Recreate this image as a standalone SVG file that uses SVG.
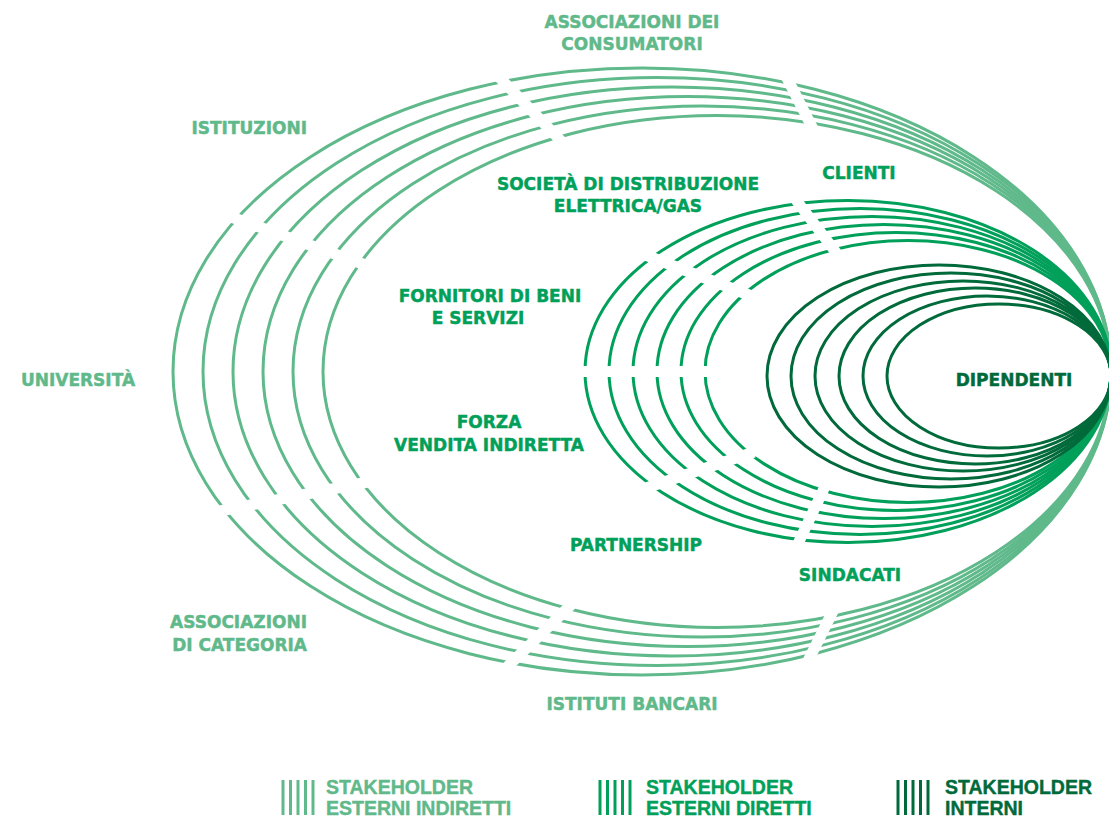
<svg xmlns="http://www.w3.org/2000/svg" width="1109" height="820" viewBox="0 0 1109 820">
<style>
.lt{fill:none;stroke:#5fb98a;stroke-width:3}
.md{fill:none;stroke:#00a05a;stroke-width:3}
.dk{fill:none;stroke:#006a3b;stroke-width:3}
.cut{stroke:#000;stroke-width:11;fill:none}
.lbl{font-family:"DejaVu Sans","Liberation Sans",sans-serif;font-weight:bold;font-size:17px;stroke-width:0.45}
.leg{font-family:"Liberation Sans",Arial,sans-serif;font-weight:bold;font-size:19.5px;stroke-width:0.4}
.tl{fill:#5fb98a;stroke:#5fb98a}.tm{fill:#00a05a;stroke:#00a05a}.td{fill:#006a3b;stroke:#006a3b}
</style>
<defs>
<mask id="mOuter" maskUnits="userSpaceOnUse" x="0" y="0" width="1109" height="820">
<rect x="0" y="0" width="1109" height="820" fill="#fff"/>
<line class="cut" x1="220" y1="213" x2="374" y2="268"/>
<line class="cut" x1="497" y1="75" x2="564" y2="144"/>
<line class="cut" x1="785" y1="74" x2="814" y2="131"/>
<line class="cut" x1="834" y1="609" x2="806" y2="665"/>
<line class="cut" x1="575" y1="601" x2="504" y2="670"/>
<line class="cut" x1="215" y1="512" x2="373" y2="481"/>
</mask>
<mask id="mMid" maskUnits="userSpaceOnUse" x="0" y="0" width="1109" height="820">
<rect x="0" y="0" width="1109" height="820" fill="#fff"/>
<line class="cut" x1="643" y1="254" x2="754" y2="297"/>
<line class="cut" x1="793" y1="196" x2="841" y2="259"/>
<line class="cut" x1="575" y1="371.5" x2="715" y2="371.5"/>
<line class="cut" x1="643" y1="489" x2="754" y2="452"/>
<line class="cut" x1="828" y1="480" x2="795" y2="550"/>
</mask>
</defs>
<g id="connectors">
<g id="outer-rings" mask="url(#mOuter)">
<ellipse class="lt" cx="642" cy="371.5" rx="469" ry="303.5"/>
<ellipse class="lt" cx="657" cy="371.5" rx="454" ry="294"/>
<ellipse class="lt" cx="672" cy="371.5" rx="439" ry="284.5"/>
<ellipse class="lt" cx="687" cy="371.5" rx="424" ry="275"/>
<ellipse class="lt" cx="702" cy="371.5" rx="409" ry="265.5"/>
<ellipse class="lt" cx="717" cy="371.5" rx="394" ry="256"/>
</g>
<g id="middle-rings" mask="url(#mMid)">
<ellipse class="md" cx="848" cy="371.5" rx="263" ry="171"/>
<ellipse class="md" cx="860" cy="371.5" rx="251" ry="163"/>
<ellipse class="md" cx="872" cy="371.5" rx="239" ry="155"/>
<ellipse class="md" cx="884" cy="371.5" rx="227" ry="147"/>
<ellipse class="md" cx="896" cy="371.5" rx="215" ry="139"/>
<ellipse class="md" cx="908" cy="371.5" rx="203" ry="131"/>
</g>
<g id="inner-rings">
<ellipse class="dk" cx="939" cy="376" rx="172" ry="111"/>
<ellipse class="dk" cx="951" cy="376" rx="160" ry="103"/>
<ellipse class="dk" cx="963" cy="376" rx="148" ry="95"/>
<ellipse class="dk" cx="975" cy="376" rx="136" ry="88"/>
<ellipse class="dk" cx="987" cy="376" rx="124" ry="80"/>
<ellipse class="dk" cx="999" cy="376" rx="112" ry="72"/>
</g>
</g>
<g id="n-consumatori"><text class="lbl tl" text-anchor="middle" x="632" y="28">ASSOCIAZIONI DEI</text><text class="lbl tl" text-anchor="middle" x="632" y="50">CONSUMATORI</text></g>
<g id="n-istituzioni"><text class="lbl tl" text-anchor="end" x="307" y="134">ISTITUZIONI</text></g>
<g id="n-universita"><text class="lbl tl" text-anchor="middle" x="78" y="386">UNIVERSITÀ</text></g>
<g id="n-categoria"><text class="lbl tl" text-anchor="end" x="307" y="628">ASSOCIAZIONI</text><text class="lbl tl" text-anchor="end" x="307" y="651">DI CATEGORIA</text></g>
<g id="n-bancari"><text class="lbl tl" text-anchor="middle" x="632" y="710">ISTITUTI BANCARI</text></g>
<g id="n-societa"><text class="lbl tm" text-anchor="middle" x="628" y="190">SOCIETÀ DI DISTRIBUZIONE</text><text class="lbl tm" text-anchor="middle" x="628" y="212">ELETTRICA/GAS</text></g>
<g id="n-clienti"><text class="lbl tm" text-anchor="middle" x="859" y="179">CLIENTI</text></g>
<g id="n-fornitori"><text class="lbl tm" text-anchor="middle" x="490" y="302">FORNITORI DI BENI</text><text class="lbl tm" text-anchor="middle" x="478" y="324">E SERVIZI</text></g>
<g id="n-forza"><text class="lbl tm" text-anchor="middle" x="489" y="428">FORZA</text><text class="lbl tm" text-anchor="middle" x="489" y="451">VENDITA INDIRETTA</text></g>
<g id="n-partnership"><text class="lbl tm" text-anchor="middle" x="636" y="551">PARTNERSHIP</text></g>
<g id="n-sindacati"><text class="lbl tm" text-anchor="middle" x="850" y="581">SINDACATI</text></g>
<g id="n-dipendenti"><text class="lbl td" text-anchor="middle" x="1014" y="386">DIPENDENTI</text></g>
<g id="legend-indiretti">
<g class="lt" stroke-width="2.5"><line x1="283" y1="780" x2="283" y2="815"/><line x1="290.5" y1="780" x2="290.5" y2="815"/><line x1="298" y1="780" x2="298" y2="815"/><line x1="305.5" y1="780" x2="305.5" y2="815"/><line x1="313" y1="780" x2="313" y2="815"/></g>
<text class="leg tl" x="326" y="794">STAKEHOLDER</text><text class="leg tl" x="326" y="815">ESTERNI INDIRETTI</text>
</g>
<g id="legend-diretti">
<g class="md" stroke-width="2.5"><line x1="600" y1="780" x2="600" y2="815"/><line x1="607.5" y1="780" x2="607.5" y2="815"/><line x1="615" y1="780" x2="615" y2="815"/><line x1="622.5" y1="780" x2="622.5" y2="815"/><line x1="630" y1="780" x2="630" y2="815"/></g>
<text class="leg tm" x="646" y="794">STAKEHOLDER</text><text class="leg tm" x="646" y="815">ESTERNI DIRETTI</text>
</g>
<g id="legend-interni">
<g class="dk" stroke-width="2.5"><line x1="898" y1="780" x2="898" y2="815"/><line x1="905.5" y1="780" x2="905.5" y2="815"/><line x1="913" y1="780" x2="913" y2="815"/><line x1="920.5" y1="780" x2="920.5" y2="815"/><line x1="928" y1="780" x2="928" y2="815"/></g>
<text class="leg td" x="945" y="794">STAKEHOLDER</text><text class="leg td" x="945" y="815">INTERNI</text>
</g>
</svg>
